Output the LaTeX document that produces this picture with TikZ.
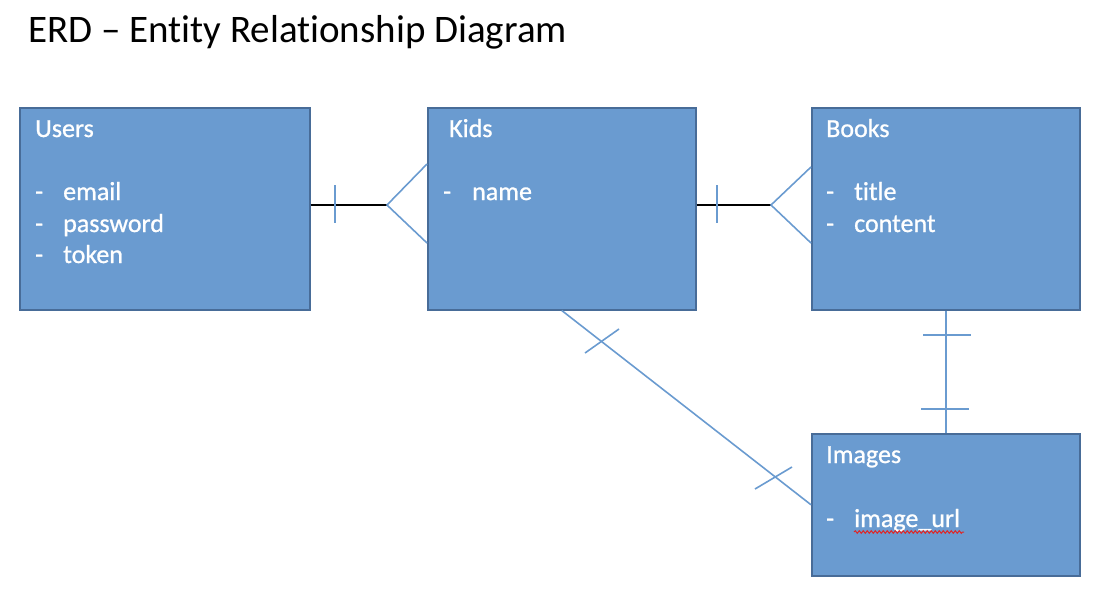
\documentclass[tikz,border=0pt]{standalone}
\usepackage{fontspec}
\setmainfont[Ligatures=NoCommon]{Carlito}
\newfontfamily\boxfont[Ligatures=NoCommon,FakeBold=0.9]{Carlito}
\usetikzlibrary{decorations.pathmorphing,calc}
\definecolor{boxfill}{RGB}{106,155,208}
\definecolor{boxline}{RGB}{72,108,152}
\definecolor{conn}{RGB}{106,155,208}
\definecolor{spell}{RGB}{220,40,40}
\begin{document}
\begin{tikzpicture}[x=1pt,y=-1pt,
  entity/.style={draw=boxline, fill=boxfill, line width=1.5pt, anchor=north west, inner sep=0pt, minimum height=202pt},
  etxt/.style={anchor=base west, inner sep=0pt, text=white, font=\boxfont\fontsize{26}{30}\selectfont},
  rel/.style={draw=conn, line width=1.6pt},
  link/.style={draw=black, line width=1.6pt},
  ttl/.style={anchor=base west, inner sep=0pt, font=\fontsize{39}{44}\selectfont}]
\useasboundingbox (0,0) rectangle (1102,600);
\node[ttl] (title) at (28,42) {ERD – Entity Relationship Diagram};

% entities
\node[entity, minimum width=290pt] (users) at (19,107) {};
\node[entity, minimum width=268pt] (kids) at (427,107) {};
\node[entity, minimum width=268pt] (books) at (811,107) {};
\node[entity, minimum width=268pt, minimum height=142pt] (images) at (811,433) {};

% texts
\node[etxt] (usersT) at (35,137) {Users};
\node[etxt] (usersA) at (35,200) {-};
\node[etxt] (usersB) at (35,232) {-};
\node[etxt] (usersC) at (35,263) {-};
\node[etxt] (usersA2) at (63,200) {email};
\node[etxt] (usersB2) at (63,232) {password};
\node[etxt] (usersC2) at (63,263) {token};

\node[etxt] (kidsT) at (449,137) {Kids};
\node[etxt] (kidsA) at (443,200) {-};
\node[etxt] (kidsA2) at (472,200) {name};

\node[etxt] (booksT) at (826,137) {Books};
\node[etxt] (booksA) at (826,200) {-};
\node[etxt] (booksB) at (826,232) {-};
\node[etxt] (booksA2) at (854,200) {title};
\node[etxt] (booksB2) at (854,232) {content};

\node[etxt] (imagesT) at (826,463) {Images};
\node[etxt] (imagesA) at (826,527) {-};
\node[etxt] (imagesA2) at (854,527) {image\_url};
\draw[spell, line width=1pt, decorate, decoration={snake, amplitude=1.3pt, segment length=4pt}] (imagesA2.base west) ++(0,5) -- ++(110,0);

% Users -- Kids
\coordinate (uk) at (387,205);
\draw[link] (users.east |- uk) -- (uk);
\draw[rel] (335,185) -- (335,223);
\draw[rel] (kids.west |- 0,164) -- (uk) -- (kids.west |- 0,243);

% Kids -- Books
\coordinate (kb) at (771,205);
\draw[link] (kids.east |- kb) -- (kb);
\draw[rel] (717,185) -- (717,223);
\draw[rel] (books.west |- 0,167) -- (kb) -- (books.west |- 0,243);

% Kids -- Images
\draw[rel] (kids.south) -- (images.west);
\draw[rel] (585,353) -- (619,329);
\draw[rel] (755,489) -- (792,467);

% Books -- Images
\draw[rel] (books.south) -- (images.north -| books.south);
\draw[rel] (923,335) -- (971,335);
\draw[rel] (921,409) -- (969,409);
\end{tikzpicture}
\end{document}
